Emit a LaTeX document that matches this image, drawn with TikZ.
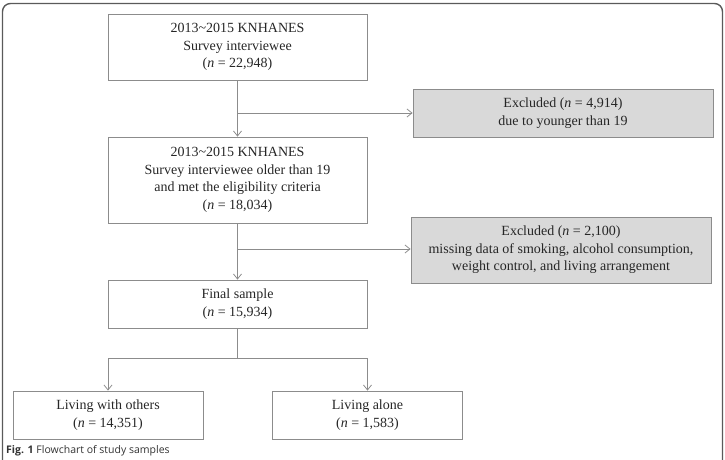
\documentclass[tikz,border=0pt]{standalone}
\usepackage{fontspec}
\setmainfont{Liberation Serif}
\setsansfont{Open Sans}
\usepackage{tikz}
\usetikzlibrary{arrows.meta,positioning,calc}
\definecolor{linegray}{HTML}{8C8C8C}
\definecolor{fillgray}{HTML}{D9D9D9}
\definecolor{framegray}{HTML}{5A5A5A}

\begin{document}
\begin{tikzpicture}[
    x=1pt, y=-1pt,
    font=\fontsize{14}{17.5}\selectfont,
    box/.style={rectangle, draw=linegray, line width=0.8pt, minimum width=259pt, align=center, inner sep=0pt, text=black!85},
    excl/.style={box, fill=fillgray, minimum width=300pt},
    leaf/.style={box, minimum width=190pt, minimum height=48pt},
    arrow/.style={-{Straight Barb[length=5pt,width=8pt]}, draw=linegray, line width=0.8pt},
    frame/.style={draw=framegray, line width=1.4pt, rounded corners=8pt}
]
\useasboundingbox (0,0) rectangle (725,460);
\draw[frame] (2.5,460) |- (722.5,3.5) -- (722.5,460);

\node[box, minimum height=66pt] (all) at (237.5,47) {2013\textasciitilde2015 KNHANES\\Survey interviewee\\(\textit{n} = 22,948)};
\node[excl, minimum height=48pt] (excl1) at (563,113) {Excluded (\textit{n} = 4,914)\\due to younger than 19};
\node[box, minimum height=86pt] (adult) at (237.5,180) {2013\textasciitilde2015 KNHANES\\Survey interviewee older than 19\\and met the eligibility criteria\\(\textit{n} = 18,034)};
\node[excl, minimum height=66pt] (excl2) at (561,250) {Excluded (\textit{n} = 2,100)\\missing data of smoking, alcohol consumption,\\weight control, and living arrangement};
\node[box, minimum height=48pt] (final) at (237.5,304) {Final sample\\(\textit{n} = 15,934)};
\node[leaf] (others) at (108,415) {Living with others\\(\textit{n} = 14,351)};
\node[leaf] (alone) at (367.5,415) {Living alone\\(\textit{n} = 1,583)};

\coordinate (b1) at (237.5,113);
\coordinate (b2) at (237.5,249);
\coordinate (split) at (237.5,358);

\draw[arrow] (all.south) -- (adult.north);
\draw[arrow] (b1) -- (b1 -| excl1.west);
\draw[arrow] (adult.south) -- (final.north);
\draw[arrow] (b2) -- (b2 -| excl2.west);
\draw[linegray, line width=0.8pt] (final.south) -- (split);
\draw[arrow] (split) -| (others.north);
\draw[arrow] (split) -| (alone.north);

\node[anchor=base west, inner sep=0pt, font=\sffamily\fontsize{10.5}{12}\selectfont, text=black!80] (caption) at (6,453) {\textbf{Fig. 1} Flowchart of study samples};
\end{tikzpicture}
\end{document}
